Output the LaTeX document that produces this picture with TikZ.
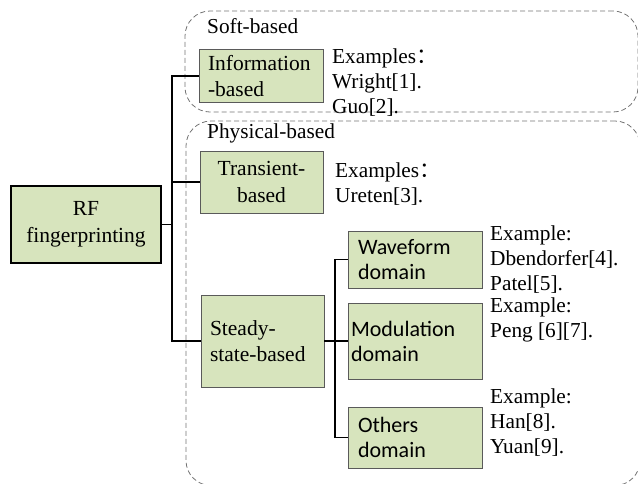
\documentclass[tikz,border=0pt]{standalone}
\usepackage{fontspec}
\setmainfont{Liberation Serif}
\newfontfamily\calibri{Carlito}
\newfontfamily\cjk{Noto Sans CJK SC}
\usepackage{xcolor}
\usepackage{tikz}
\definecolor{boxgreen}{HTML}{D7E4BD}
\definecolor{boxline}{HTML}{5A5A5A}
\definecolor{plateline}{HTML}{747474}
\tikzstyle{rootnode}=[black, draw=black, line width=1.5pt, shape=rectangle, fill=boxgreen, align=center, inner sep=0pt, font=\fontsize{21.5}{27}\selectfont]
\tikzstyle{classnode}=[black, draw=boxline, line width=0.8pt, shape=rectangle, fill=boxgreen, inner xsep=9pt, inner ysep=0pt, font=\fontsize{21.5}{26.5}\selectfont]
\tikzstyle{domainnode}=[black, draw=boxline, line width=0.8pt, shape=rectangle, fill=boxgreen, align=left, inner xsep=10pt, inner ysep=0pt, font=\calibri\fontsize{22}{25}\selectfont]
\tikzstyle{exnode}=[shape=rectangle, inner sep=0pt, anchor=north west, align=left, font=\fontsize{21.3}{25}\selectfont]
\tikzstyle{platenode}=[draw=plateline, line width=0.8pt, dash pattern=on 5pt off 3pt, shape=rectangle, rounded corners=25pt]
\tikzstyle{platelabel}=[shape=rectangle, inner sep=0pt, anchor=base west, font=\fontsize{21.3}{25}\selectfont]
\tikzstyle{branch}=[line width=1.5pt, color=black]

\begin{document}
\begin{tikzpicture}[x=1pt, y=-1pt]
\useasboundingbox (0,0) rectangle (638,483);

\node [platenode, minimum width=453pt, minimum height=101pt] (softplate) at (411.5,61.5) {};
\node [platenode, minimum width=454pt, minimum height=364.5pt] (physplate) at (413,303.25) {};
\node [platelabel] (softlabel) at (207,33) {Soft-based};
\node [platelabel] (physlabel) at (207,138) {Physical-based};

\node [rootnode, minimum width=150pt, minimum height=77pt] (root) at (86,224.5) {RF\\fingerprinting};
\node [classnode, align=left, text width=106pt, minimum height=53pt] (info) at (261,76) {Information\\-based};
\node [classnode, align=center, text width=105pt, minimum height=62pt] (trans) at (261.5,182) {Transient-\\based};
\node [classnode, align=left, text width=105pt, minimum height=92pt] (steady) at (262.5,341) {Steady-\\state-based};
\node [domainnode, text width=114pt, minimum height=57pt] (wave) at (415,259.5) {Waveform\\domain};
\node [domainnode, inner xsep=3pt, text width=128pt, minimum height=76pt] (mod) at (415,341) {Modulation\\domain};
\node [domainnode, text width=114pt, minimum height=61pt] (others) at (415,437.5) {Others\\domain};

\node [exnode] (infoex) at (332,49) {Examples{\cjk ：}\\Wright[1].\\Guo[2].};
\node [exnode] (transex) at (335,163) {Examples{\cjk ：}\\Ureten[3].};
\node [exnode] (waveex) at (490,226) {Example:\\Dbendorfer[4].\\Patel[5].};
\node [exnode] (modex) at (490,298) {Example:\\Peng [6][7].};
\node [exnode] (othersex) at (490,389) {Example:\\Han[8].\\Yuan[9].};

\coordinate (trunk) at (172,224.5);
\coordinate (subtrunk) at (335,341);

\draw[branch] (root.east) -- (trunk);
\draw[branch] (trunk) |- (info.west);
\draw[branch] (trunk) |- (trans.west);
\draw[branch] (trunk) |- (steady.west);
\draw[branch] (steady.east) -- (mod.west);
\draw[branch] (subtrunk) |- (wave.west);
\draw[branch] (subtrunk) |- (others.west);
\end{tikzpicture}
\end{document}
